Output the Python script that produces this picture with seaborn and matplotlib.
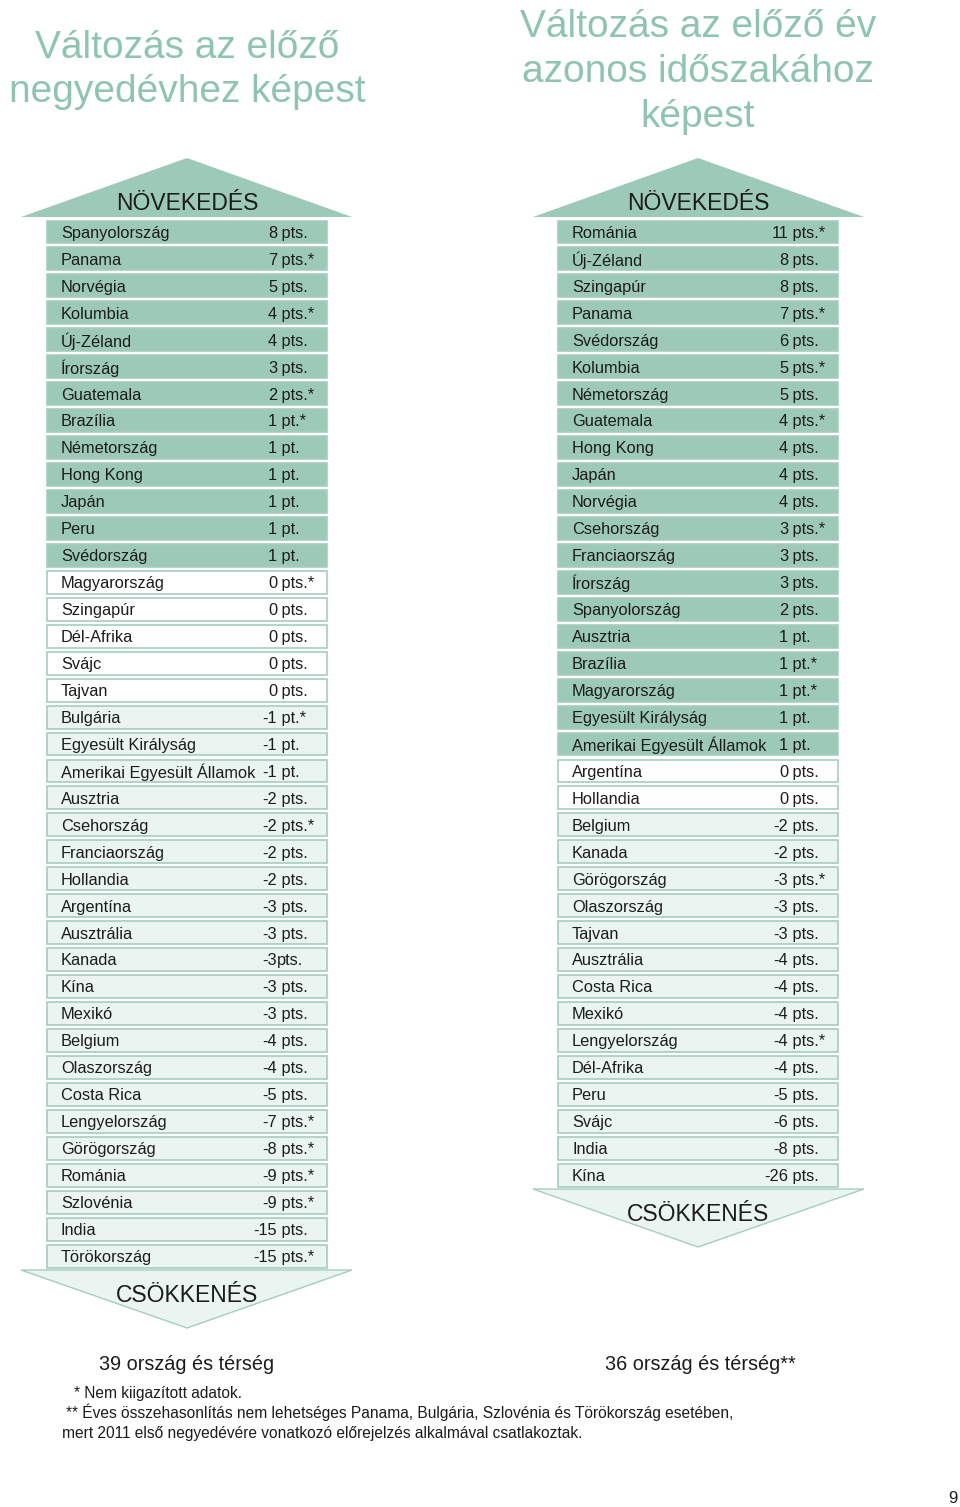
import pandas as pd
import matplotlib
matplotlib.use("Agg")
import matplotlib.pyplot as plt
from matplotlib.patches import Polygon
import seaborn as sns

# ================================
# Data: change vs previous quarter
# ================================
q_countries = ["Spanyolország", "Panama", "Norvégia", "Kolumbia", "Új-Zéland", "Írország",
               "Guatemala", "Brazília", "Németország", "Hong Kong", "Japán", "Peru",
               "Svédország", "Magyarország", "Szingapúr", "Dél-Afrika", "Svájc", "Tajvan",
               "Bulgária", "Egyesült Királyság", "Amerikai Egyesült Államok", "Ausztria",
               "Csehország", "Franciaország", "Hollandia", "Argentína", "Ausztrália",
               "Kanada", "Kína", "Mexikó", "Belgium", "Olaszország", "Costa Rica",
               "Lengyelország", "Görögország", "Románia", "Szlovénia", "India", "Törökország"]
q_values = [8, 7, 5, 4, 4, 3, 2, 1, 1, 1, 1, 1, 1, 0, 0, 0, 0, 0, -1, -1, -1, -2, -2, -2, -2,
            -3, -3, -3, -3, -3, -4, -4, -5, -7, -8, -9, -9, -15, -15]
q_units = [" pts.", " pts.*", " pts.", " pts.*", " pts.", " pts.", " pts.*", " pt.*", " pt.",
           " pt.", " pt.", " pt.", " pt.", " pts.*", " pts.", " pts.", " pts.", " pts.",
           " pt.*", " pt.", " pt.", " pts.", " pts.*", " pts.", " pts.", " pts.", " pts.",
           "pts.", " pts.", " pts.", " pts.", " pts.", " pts.", " pts.*", " pts.*", " pts.*",
           " pts.*", " pts.", " pts.*"]

# ================================
# Data: change vs same period last year
# ================================
y_countries = ["Románia", "Új-Zéland", "Szingapúr", "Panama", "Svédország", "Kolumbia",
               "Németország", "Guatemala", "Hong Kong", "Japán", "Norvégia", "Csehország",
               "Franciaország", "Írország", "Spanyolország", "Ausztria", "Brazília",
               "Magyarország", "Egyesült Királyság", "Amerikai Egyesült Államok", "Argentína",
               "Hollandia", "Belgium", "Kanada", "Görögország", "Olaszország", "Tajvan",
               "Ausztrália", "Costa Rica", "Mexikó", "Lengyelország", "Dél-Afrika", "Peru",
               "Svájc", "India", "Kína"]
y_values = [11, 8, 8, 7, 6, 5, 5, 4, 4, 4, 4, 3, 3, 3, 2, 1, 1, 1, 1, 1, 0, 0, -2, -2, -3, -3,
            -3, -4, -4, -4, -4, -4, -5, -6, -8, -26]
y_units = [" pts.*", " pts.", " pts.", " pts.*", " pts.", " pts.*", " pts.", " pts.*", " pts.",
           " pts.", " pts.", " pts.*", " pts.", " pts.", " pts.", " pt.", " pt.*", " pt.*",
           " pt.", " pt.", " pts.", " pts.", " pts.", " pts.", " pts.*", " pts.", " pts.",
           " pts.", " pts.", " pts.", " pts.*", " pts.", " pts.", " pts.", " pts.", " pts."]

UP = "#9dc9b7"
ZERO = "#ffffff"
DOWN = "#eaf4f0"
EDGE = "#a6cdbe"
TITLE = "#8ec4b1"
INK = "#1c1c1c"

sns.set_theme(style="white")
plt.rcParams["font.family"] = ["Liberation Sans", "DejaVu Sans"]

W, H = 960, 1507
fig = plt.figure(figsize=(W / 100, H / 100), dpi=100)
fig.patch.set_facecolor("white")

# page-sized axes for titles, arrows and notes
deco = fig.add_axes([0, 0, 1, 1])
deco.set_xlim(0, W)
deco.set_ylim(H, 0)
deco.axis("off")


def direction(v):
    if v > 0:
        return "up"
    return "zero" if v == 0 else "down"


def table(countries, values, units, x0, top, pitch=26.95, width=280):
    n = len(countries)
    df = pd.DataFrame({"country": countries, "value": values, "unit": units})
    df["dir"] = [direction(v) for v in values]
    df["row"] = 1.0
    ax = fig.add_axes([x0 / W, 1 - (top + n * pitch) / H, width / W, n * pitch / H])
    ax.patch.set_alpha(0)
    sns.barplot(data=df, x="row", y="country", hue="dir", orient="h", dodge=False,
                palette={"up": UP, "zero": ZERO, "down": DOWN}, saturation=1, width=0.85,
                edgecolor=EDGE, linewidth=1.2, legend=False, ax=ax)
    for p in ax.patches:
        p.set_clip_on(False)
    ax.set_xlim(0, 1)
    ax.set_ylim(n - 0.5, -0.5)
    ax.axis("off")
    for i, r in df.iterrows():
        y = i + 0.05
        ax.text(0.05, y, r.country, ha="left", va="center", fontsize=11.8, color=INK)
        ax.text(0.822, y, f"{r.value}", ha="right", va="center", fontsize=11.8, color=INK)
        ax.text(0.822, y, r.unit, ha="left", va="center", fontsize=11.8, color=INK)
    return ax


def up_arrow(cx, left, right, base, apex):
    deco.add_patch(Polygon([(left, base), (cx, apex), (right, base)], closed=True,
                           facecolor=UP, edgecolor="none"))
    deco.text(cx, base - 7, "NÖVEKEDÉS", ha="center", va="baseline", fontsize=16.5, color=INK)


def down_arrow(cx, left, right, base, apex):
    deco.add_patch(Polygon([(left, base), (right, base), (cx, apex)], closed=True,
                           facecolor=DOWN, edgecolor=EDGE, linewidth=1))
    deco.text(cx, base + 32, "CSÖKKENÉS", ha="center", va="baseline", fontsize=16.5, color=INK)


# titles
for txt, yb in [("Változás az előző", 58), ("negyedévhez képest", 102)]:
    deco.text(187, yb, txt, ha="center", va="baseline", fontsize=28, color=TITLE)
for txt, yb in [("Változás az előző év", 37), ("azonos időszakához", 82), ("képest", 127)]:
    deco.text(698, yb, txt, ha="center", va="baseline", fontsize=28, color=TITLE)

# arrows
up_arrow(187, 21, 352, 217, 158)
up_arrow(698, 533, 864, 217, 158)
down_arrow(187, 21, 352, 1270, 1328)
down_arrow(698, 533, 864, 1189, 1247)

# tables
table(q_countries, q_values, q_units, 47, 218.5)
table(y_countries, y_values, y_units, 558, 218.5)

# footer
deco.text(187, 1370, "39 ország és térség", ha="center", va="baseline", fontsize=14.3, color=INK)
deco.text(700, 1370, "36 ország és térség**", ha="center", va="baseline", fontsize=14.3, color=INK)
deco.text(74, 1398, "* Nem kiigazított adatok.", ha="left", va="baseline", fontsize=11.2, color=INK)
deco.text(66, 1418, "** Éves összehasonlítás nem lehetséges Panama, Bulgária, Szlovénia és Törökország esetében,",
          ha="left", va="baseline", fontsize=11.2, color=INK)
deco.text(62, 1438, "mert 2011 első negyedévére vonatkozó előrejelzés alkalmával csatlakoztak.",
          ha="left", va="baseline", fontsize=11.2, color=INK)
deco.text(953, 1503, "9", ha="center", va="baseline", fontsize=12, color=INK)

fig.savefig("out.png", dpi=100, facecolor="white")
